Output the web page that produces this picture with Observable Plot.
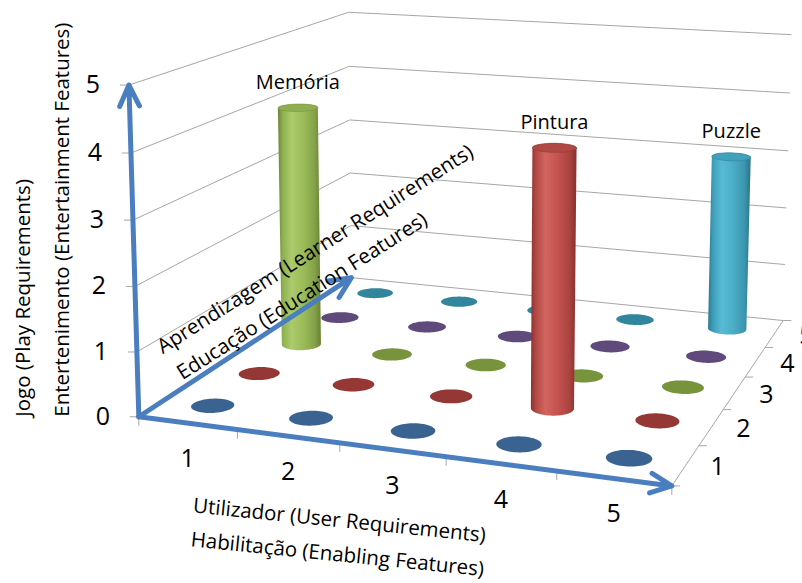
<!DOCTYPE html>
<html>
<head>
<meta charset="utf-8">
<script src="https://cdn.jsdelivr.net/npm/d3@7"></script>
<script src="https://cdn.jsdelivr.net/npm/@observablehq/plot@0.6"></script>
<style>
  html, body { margin: 0; padding: 0; background: #fff; }
  #chart { width: 802px; height: 583px; }
</style>
</head>
<body>
<div id="chart"></div>
<script>
// Axis categories
const utilizador = [1, 2, 3, 4, 5];     // Utilizador (User Requirements)
const aprendizagem = [1, 2, 3, 4, 5];   // Aprendizagem (Learner Requirements)
const jogoTicks = [0, 1, 2, 3, 4, 5];   // Jogo (Play Requirements)

// Games placed in the requirement space
const games = ["Memória", "Pintura", "Puzzle"];
const gameUtilizador = [1, 4, 5];
const gameAprendizagem = [3, 2, 5];
const gameJogo = [4, 4, 3];

// One colour per Aprendizagem level (series)
const seriesColor = ["#4f81bd", "#c0504d", "#9bbb59", "#8064a2", "#4bacc6"];
const discColor = ["#3b6392", "#953735", "#77933c", "#604a7b", "#31859c"];
const topColor = ["#4676b0", "#b04845", "#8fae50", "#745a95", "#41a0ba"];
const gradientStops = [
  ["#2f5584", "#4577b3", "#6a97cf", "#4f81bd", "#40699b", "#2d5080"],
  ["#8a3230", "#b64a47", "#d2655f", "#c4524f", "#a9433f", "#86302e"],
  ["#6a8535", "#91b251", "#abcb6c", "#9bbb59", "#84a248", "#688233"],
  ["#574578", "#7a5e9c", "#9880b8", "#8064a2", "#6c5589", "#524173"],
  ["#2d7890", "#3f9fba", "#58bbd6", "#4bacc6", "#3c96af", "#2b738a"]
];

const W = 802, H = 583;

// Perspective camera, fitted (DLT) to the screen positions of the box
// corners and tick marks: [X, Y, Z, px, py], box spans 0..5 on each axis.
const boxAnchors = [
  [0, 0, 0, 139, 414], [5, 0, 0, 669, 484], [0, 5, 0, 349, 277], [5, 5, 0, 785, 320],
  [0, 0, 5, 126, 84], [0, 5, 5, 349, 12], [5, 5, 5, 792, 34],
  [0, 0, 1, 138, 351], [0, 0, 2, 136, 286], [0, 0, 3, 133, 218], [0, 0, 4, 131, 151],
  [0, 5, 1, 350, 224], [0, 5, 2, 349, 173], [0, 5, 3, 349, 120], [0, 5, 4, 349, 66],
  [5, 5, 1, 782, 265], [5, 5, 2, 784, 208], [5, 5, 3, 787, 152], [5, 5, 4, 790, 93],
  [1, 0, 0, 238, 432], [2, 0, 0, 340, 446], [3, 0, 0, 443, 459], [4, 0, 0, 555, 473],
  [5, 1, 0, 698, 443], [5, 2, 0, 723, 408], [5, 3, 0, 747, 374], [5, 4, 0, 767, 345]
];

function fitCamera(anchors) {
  const n = 11, M = Array.from({length: n}, () => new Array(n + 1).fill(0));
  const add = (row, rhs) => {
    for (let i = 0; i < n; i++) {
      for (let j = 0; j < n; j++) M[i][j] += row[i] * row[j];
      M[i][n] += row[i] * rhs;
    }
  };
  for (const [X, Y, Z, px, py] of anchors) {
    const x = (X - 2.5) / 2.5, y = (Y - 2.5) / 2.5, z = (Z - 2.5) / 2.5;
    const u = (px - 400) / 400, v = (py - 300) / 400;
    add([x, y, z, 1, 0, 0, 0, 0, -u * x, -u * y, -u * z], u);
    add([0, 0, 0, 0, x, y, z, 1, -v * x, -v * y, -v * z], v);
  }
  for (let c = 0; c < n; c++) {
    let p = c;
    for (let r = c + 1; r < n; r++) if (Math.abs(M[r][c]) > Math.abs(M[p][c])) p = r;
    [M[c], M[p]] = [M[p], M[c]];
    for (let r = 0; r < n; r++) {
      if (r === c) continue;
      const f = M[r][c] / M[c][c];
      for (let k = c; k <= n; k++) M[r][k] -= f * M[c][k];
    }
  }
  return M.map((row, i) => row[n] / row[i]);
}

const cam = fitCamera(boxAnchors);
function project(X, Y, Z) {
  const x = (X - 2.5) / 2.5, y = (Y - 2.5) / 2.5, z = (Z - 2.5) / 2.5;
  const w = cam[8] * x + cam[9] * y + cam[10] * z + 1;
  const u = (cam[0] * x + cam[1] * y + cam[2] * z + cam[3]) / w;
  const v = (cam[4] * x + cam[5] * y + cam[6] * z + cam[7]) / w;
  return [u * 400 + 400, v * 400 + 300];
}
const px = (p) => p[0], py = (p) => p[1];

// Horizontal circle of radius r around (X, Y) at height Z
function ring(X, Y, Z, r, steps = 64) {
  const pts = d3.range(steps).map(k => {
    const t = (2 * Math.PI * k) / steps;
    return project(X + r * Math.cos(t), Y + r * Math.sin(t), Z);
  });
  pts.push(pts[0]);
  return pts;
}

// Grid cells, drawn from the back row to the front row
const cells = [];
aprendizagem.forEach((a, j) => utilizador.forEach(u => {
  const g = games.findIndex((_, k) => gameUtilizador[k] === u && gameAprendizagem[k] === a);
  cells.push({u, a, series: j, value: g < 0 ? 0 : gameJogo[g], name: g < 0 ? null : games[g]});
}));
cells.sort((p, q) => q.a - p.a || p.u - q.u);

const R = 0.2;
const shapeMarks = cells.flatMap(c => {
  const X = c.u - 0.5, Y = c.a - 0.5;
  if (c.value === 0) {
    return [Plot.line(ring(X, Y, 0, R), {x: px, y: py, fill: discColor[c.series], stroke: "none"})];
  }
  const bottom = ring(X, Y, 0, R), top = ring(X, Y, c.value, R);
  const body = d3.polygonHull(bottom.concat(top));
  body.push(body[0]);
  return [
    Plot.line(body, {x: px, y: py, fill: `url(#cyl-${c.series})`, stroke: "none"}),
    Plot.line(top, {x: px, y: py, fill: topColor[c.series], stroke: discColor[c.series], strokeWidth: 0.6})
  ];
});

const labelled = cells.filter(c => c.name);

// Gridlines on the left wall (X = 0) and back wall (Y = 5)
const leftWall = jogoTicks.filter(z => z > 0).map(z => ({a: project(0, 0, z), b: project(0, 5, z)}));
const backWall = jogoTicks.map(z => ({a: project(0, 5, z), b: project(5, 5, z)}));
const rightEdge = [{a: project(5, 0, 0), b: project(5, 5, 0)}];
const gridLink = (data) => Plot.link(data, {
  x1: d => d.a[0], y1: d => d.a[1], x2: d => d.b[0], y2: d => d.b[1],
  stroke: "#a6a6a6", strokeWidth: 1
});

// Tick marks along the edges
const xTickPos = d3.range(0, 6).map(i => project(i, 0, 0));
const zTickPos = jogoTicks.map(z => project(0, 0, z));
const yTickPos = d3.range(0, 6).map(j => project(5, j, 0));

const origin = project(0, 0, 0);
const axisArrows = [
  {a: origin, b: project(5, 0, 0)},
  {a: origin, b: project(0, 5, 0)},
  {a: origin, b: project(0, 0, 5)}
];

const font = "Open Sans";
const titleSize = 20.5;
const ink = "#000";

const chart = Plot.plot({
  width: W,
  height: H,
  margin: 0,
  x: {domain: [0, W], range: [0, W], axis: null},
  y: {domain: [0, H], range: [0, H], axis: null},
  style: {fontFamily: font, background: "#fff"},
  marks: [
    gridLink(leftWall),
    gridLink(backWall),
    gridLink(rightEdge),
    Plot.link(xTickPos, {x1: px, y1: py, x2: px, y2: d => d[1] + 9, stroke: "#a6a6a6"}),
    Plot.link(zTickPos, {x1: px, y1: py, x2: d => d[0] - 9, y2: py, stroke: "#a6a6a6"}),
    Plot.link(yTickPos, {x1: px, y1: py, x2: d => d[0] + 8, y2: py, stroke: "#a6a6a6"}),
    ...shapeMarks,
    Plot.arrow(axisArrows, {
      x1: d => d.a[0], y1: d => d.a[1], x2: d => d.b[0], y2: d => d.b[1],
      stroke: "#4a7ebf", strokeWidth: 5, headLength: 7, headAngle: 50,
      strokeLinecap: "round", strokeLinejoin: "round"
    }),
    // tick labels
    Plot.text(jogoTicks, {x: z => project(0, 0, z)[0], y: z => project(0, 0, z)[1], text: d => String(d),
      dx: -36, fontSize: 25, fill: ink}),
    Plot.text(utilizador, {x: u => project(u - 0.5, 0, 0)[0], y: u => project(u - 0.5, 0, 0)[1], text: d => String(d),
      dy: 36, fontSize: 25, fill: ink}),
    Plot.text(aprendizagem, {x: a => project(5, a - 0.5, 0)[0], y: a => project(5, a - 0.5, 0)[1], text: d => String(d),
      dx: 32, dy: 2, fontSize: 25, fill: ink}),
    // data labels
    Plot.text(labelled, {x: c => project(c.u - 0.5, c.a - 0.5, c.value)[0], y: c => project(c.u - 0.5, c.a - 0.5, c.value)[1],
      text: "name", dy: -25, fontSize: 20, fill: ink}),
    // axis titles
    Plot.text(["Jogo (Play Requirements)"], {x: origin[0], y: origin[1], dx: -115, text: d => d,
      rotate: -90, textAnchor: "start", fontSize: titleSize, fill: ink}),
    Plot.text(["Entertenimento (Entertainment Features)"], {x: origin[0], y: origin[1], dx: -76, text: d => d,
      rotate: -90, textAnchor: "start", fontSize: titleSize, fill: ink}),
    Plot.text(["Utilizador (User Requirements)"], {x: project(2.5, 0, 0)[0], y: project(2.5, 0, 0)[1], dx: -53, dy: 71,
      text: d => d, rotate: 5.8, fontSize: titleSize, fill: ink}),
    Plot.text(["Habilitação (Enabling Features)"], {x: project(2.5, 0, 0)[0], y: project(2.5, 0, 0)[1], dx: -55, dy: 105,
      text: d => d, rotate: 5.8, fontSize: titleSize, fill: ink}),
    Plot.text(["Aprendizagem (Learner Requirements)"], {x: project(0, 2.5, 0)[0], y: project(0, 2.5, 0)[1], dx: 58, dy: -90,
      text: d => d, rotate: -32.5, fontSize: titleSize, fill: ink}),
    Plot.text(["Educação (Education Features)"], {x: project(0, 2.5, 0)[0], y: project(0, 2.5, 0)[1], dx: 45, dy: -43,
      text: d => d, rotate: -32.5, fontSize: titleSize, fill: ink})
  ]
});

// Cylinder shading gradients
const defs = d3.select(chart).insert("defs", ":first-child");
gradientStops.forEach((stops, i) => {
  const g = defs.append("linearGradient").attr("id", `cyl-${i}`)
    .attr("x1", "0").attr("x2", "1").attr("y1", "0").attr("y2", "0");
  const offsets = [0, 0.12, 0.32, 0.6, 0.85, 1];
  stops.forEach((c, k) => g.append("stop").attr("offset", offsets[k]).attr("stop-color", c));
});

document.getElementById("chart").appendChild(chart);
</script>
</body>
</html>
